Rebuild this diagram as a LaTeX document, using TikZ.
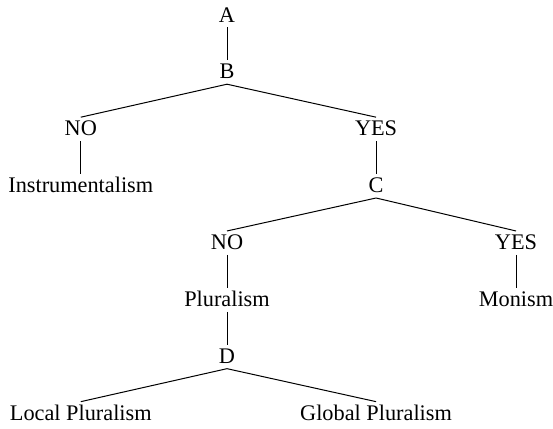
\documentclass[tikz,border=0pt]{standalone}
\usepackage{fontspec}
\setmainfont{Liberation Serif}
\begin{document}
\begin{tikzpicture}[font=\fontsize{11.15}{13}\selectfont,line width=.5pt,
  every node/.style={inner sep=2.4pt,text height=1.45ex,text depth=0pt}]
\useasboundingbox (0,0) rectangle (9.72,-7.54);

% questions and answers
\node (A) at (3.99,-0.27) {A};
\node (B) at (3.99,-1.27) {B};
\node (no1) at (1.42,-2.27) {NO};
\node (yes1) at (6.61,-2.27) {YES};
\node (instr) at (1.42,-3.27) {Instrumentalism};
\node (C) at (6.61,-3.27) {C};
\node (no2) at (3.99,-4.27) {NO};
\node (yes2) at (9.07,-4.27) {YES};
\node (plur) at (3.99,-5.27) {Pluralism};
\node (mon) at (9.07,-5.27) {Monism};
\node (D) at (3.99,-6.27) {D};
\node (local) at (1.42,-7.27) {Local Pluralism};
\node (global) at (6.61,-7.27) {Global Pluralism};

% branches
\draw (A) -- (B);
\draw (B.south) -- (no1.north);
\draw (B.south) -- (yes1.north);
\draw (no1) -- (instr);
\draw (yes1) -- (C);
\draw (C.south) -- (no2.north);
\draw (C.south) -- (yes2.north);
\draw (no2) -- (plur);
\draw (yes2) -- (mon);
\draw (plur) -- (D);
\draw (D.south) -- (local.north);
\draw (D.south) -- (global.north);
\end{tikzpicture}
\end{document}
